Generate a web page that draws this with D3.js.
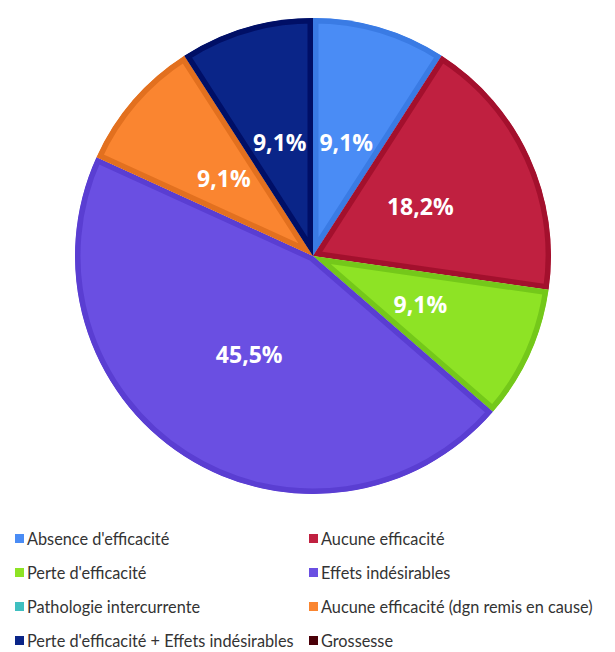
<!DOCTYPE html>
<html><head><meta charset="utf-8">
<script src="https://cdn.jsdelivr.net/npm/d3@7"></script>
<style>body{margin:0;background:#fff}</style>
</head><body>
<script>
const categories = ["Absence d'efficacité","Aucune efficacité","Perte d'efficacité","Effets indésirables","Pathologie intercurrente","Aucune efficacité (dgn remis en cause)","Perte d'efficacité + Effets indésirables","Grossesse"];
const values = [1,2,1,5,0,1,1,0];
const labels = ["9,1%","18,2%","9,1%","45,5%","","9,1%","9,1%",""];
const fills = ["#4a8cf5","#c02040","#8ee325","#6a4fe2","#3fbfc0","#fa8530","#0a2588","#4a0008"];
const borders = ["#3a7be4","#a3102d","#74c81a","#5a3ed2","#30a8a8","#e2701f","#000f66","#300005"];

const W=615,H=652, cx=313, cy=256, R=238;
const svg=d3.select("body").append("svg").attr("width",W).attr("height",H);
const pie=d3.pie().sort(null).value(d=>d);
const arcs=pie(values);
const arc=d3.arc().innerRadius(0).outerRadius(R);
const g=svg.append("g").attr("transform",`translate(${cx},${cy})`);
const defs=svg.append("defs");
arcs.forEach((a,i)=>{
  if(a.data===0) return;
  defs.append("clipPath").attr("id","c"+i).append("path").attr("d",arc(a));
  g.append("path").attr("d",arc(a)).attr("fill",fills[i]).attr("stroke",borders[i])
   .attr("stroke-width",11).attr("stroke-linejoin","miter").attr("clip-path",`url(#c${i})`);
});
const lab=d3.arc().innerRadius(118).outerRadius(118);
arcs.forEach((a,i)=>{
  if(a.data===0) return;
  const [x,y]=lab.centroid(a);
  g.append("text").attr("x",x).attr("y",y).attr("dy","0.35em").attr("text-anchor","middle")
   .attr("fill","#fff").attr("font-family","Open Sans").attr("font-weight","bold").attr("font-size",23)
   .text(labels[i]);
});
const lg=svg.append("g");
categories.forEach((c,i)=>{
  const col=i%2,row=Math.floor(i/2);
  const x=col?309:15, y=539+row*34;
  lg.append("rect").attr("x",x).attr("y",y-5).attr("width",9).attr("height",9).attr("fill",fills[i]);
  lg.append("text").attr("x",x+12).attr("y",y).attr("dy","0.35em").attr("font-family","Lato").attr("font-size",16.3).attr("fill","#333").text(c);
});
</script>
</body></html>
